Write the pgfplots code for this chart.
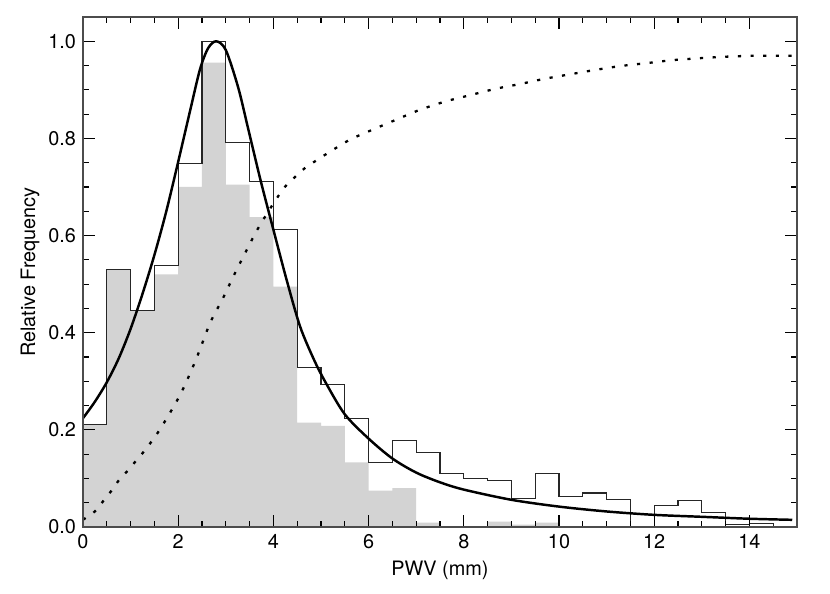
\documentclass[border=0pt]{standalone}
\usepackage{fontspec}
\setmainfont{TeX Gyre Heros}
\usepackage{pgfplots}
\pgfplotsset{compat=1.18}
\definecolor{histgray}{RGB}{211,211,211}
\begin{document}
\fontsize{11.3}{13}\selectfont
\begin{tikzpicture}
\path[use as bounding box] (-1.66cm,-1.32cm) rectangle (14.94cm,10.54cm);
\begin{axis}[
  scale only axis,
  width=14.28cm, height=10.2cm,
  xmin=0, xmax=15, ymin=0, ymax=1.05,
  xtick={0,2,...,14}, ytick={0,0.2,...,1.0},
  minor x tick num=3, minor y tick num=3,
  tick align=inside, tick pos=both,
  major tick length=0.24cm, minor tick length=0.12cm,
  axis line style={black!70, line width=0.7pt},
  every tick/.style={black, line width=0.6pt},
  /pgf/number format/assume math mode=true,
  yticklabel style={/pgf/number format/fixed, /pgf/number format/fixed zerofill, /pgf/number format/precision=1},
  xlabel={PWV (mm)}, ylabel={Relative Frequency},
  x label style={at={(axis description cs:0.5,-0.0843)}, anchor=center},
  y label style={at={(axis description cs:-0.0742,0.5)}, anchor=center},
  axis on top,
  clip=true,
]
% filled histogram
\addplot[const plot, fill=histgray, draw=none] coordinates {
  (0,0.212) (0.5,0.531) (1.0,0.446) (1.5,0.520) (2.0,0.700) (2.5,0.956)
  (3.0,0.705) (3.5,0.638) (4.0,0.495) (4.5,0.215) (5.0,0.208) (5.5,0.133)
  (6.0,0.075) (6.5,0.080) (7.0,0.009) (7.5,0) (8.0,0) (8.5,0.011)
  (9.0,0.005) (9.5,0.009) (10.0,0) (15,0)
} \closedcycle;
% outline histogram
\addplot[const plot, black!85, line width=0.6pt] coordinates {
  (0,0.212) (0.5,0.531) (1.0,0.446) (1.5,0.539) (2.0,0.748) (2.5,1.000)
  (3.0,0.792) (3.5,0.712) (4.0,0.613) (4.5,0.329) (5.0,0.294) (5.5,0.223)
  (6.0,0.133) (6.5,0.179) (7.0,0.154) (7.5,0.110) (8.0,0.100) (8.5,0.096)
  (9.0,0.058) (9.5,0.110) (10.0,0.062) (10.5,0.070) (11.0,0.056) (11.5,0)
  (12.0,0.045) (12.5,0.054) (13.0,0.029) (13.5,0.006) (14.0,0.007) (14.5,0.002)
  (15.0,0.002)
};
% fitted curve
\addplot[smooth, black, line width=1.4pt] coordinates {
  (0,0.224) (0.25,0.258) (0.5,0.298) (0.75,0.347) (1.0,0.408) (1.25,0.480)
  (1.5,0.560) (1.75,0.650) (2.0,0.752) (2.25,0.857) (2.46,0.943) (2.63,0.986)
  (2.8,1.0) (3.0,0.982) (3.26,0.905) (3.47,0.820) (3.73,0.714) (4.0,0.612)
  (4.28,0.508) (4.56,0.413) (4.85,0.345) (5.1,0.297) (5.5,0.232) (6.0,0.182)
  (6.5,0.141) (7.0,0.112) (7.5,0.092) (8.0,0.077) (9.0,0.056) (10,0.042)
  (11,0.032) (12,0.025) (13,0.021) (14,0.017) (14.9,0.0148)
};
% cumulative distribution
\addplot[smooth, black, line width=1.3pt, dash pattern=on 1.8pt off 5.4pt] coordinates {
  (0,0.015) (0.25,0.032) (0.43,0.054) (0.6,0.075) (0.76,0.097) (0.94,0.116)
  (1.12,0.137) (1.3,0.158) (1.61,0.200) (2.04,0.272) (2.37,0.344) (2.67,0.420)
  (2.93,0.469) (3.16,0.516) (3.37,0.557) (3.65,0.610) (3.96,0.660) (4.24,0.700)
  (4.47,0.722) (4.70,0.742) (4.91,0.755) (5.13,0.769) (5.6,0.797) (6.06,0.817)
  (6.59,0.839) (7.08,0.859) (7.61,0.876) (8.13,0.889) (8.66,0.902) (9.18,0.912)
  (9.71,0.923) (10.23,0.932) (10.76,0.941) (11.29,0.949) (11.84,0.955) (12.37,0.961)
  (12.93,0.965) (13.45,0.968) (14.01,0.970) (14.57,0.970) (15,0.970)
};
\end{axis}
\end{tikzpicture}
\end{document}
